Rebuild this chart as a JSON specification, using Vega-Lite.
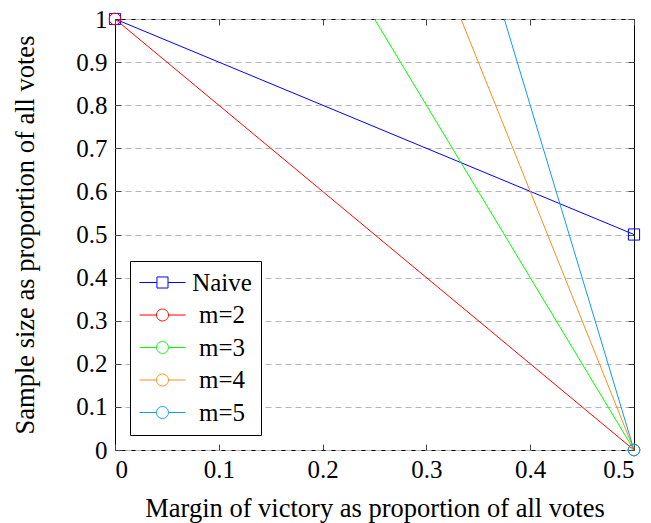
{
  "$schema": "https://vega.github.io/schema/vega-lite/v6.json",
  "width": 519,
  "height": 431,
  "autosize": {"type": "none"},
  "padding": {"left": 115, "top": 19, "right": 17, "bottom": 73},
  "background": "white",
  "data": {
    "values": [
      {"series": "Naive", "x": 0, "y": 1},
      {"series": "Naive", "x": 0.5, "y": 0.5},
      {"series": "m=2", "x": 0, "y": 1},
      {"series": "m=2", "x": 0.5, "y": 0},
      {"series": "m=3", "x": 0, "y": 2},
      {"series": "m=3", "x": 0.5, "y": 0},
      {"series": "m=4", "x": 0, "y": 3},
      {"series": "m=4", "x": 0.5, "y": 0},
      {"series": "m=5", "x": 0, "y": 4},
      {"series": "m=5", "x": 0.5, "y": 0}
    ]
  },
  "config": {
    "view": {"stroke": "black", "strokeWidth": 1},
    "font": "Liberation Serif",
    "axis": {
      "labelFont": "Liberation Serif",
      "labelFontSize": 25,
      "labelColor": "black",
      "titleFont": "Liberation Serif",
      "titleFontSize": 26.5,
      "titleFontWeight": "normal",
      "titleColor": "black",
      "domain": false,
      "tickSize": -6,
      "tickColor": "#444",
      "tickWidth": 1
    },
    "legend": {
      "labelFont": "Liberation Serif",
      "labelFontSize": 25,
      "labelColor": "black"
    }
  },
  "layer": [
    {
      "layer": [
        {
          "mark": {"type": "line", "clip": true, "strokeWidth": 1},
          "encoding": {
            "x": {
              "field": "x", "type": "quantitative",
              "scale": {"domain": [0, 0.5], "nice": false, "zero": false},
              "axis": {
                "orient": "bottom",
                "title": "Margin of victory as proportion of all votes",
                "values": [0, 0.1, 0.2, 0.3, 0.4, 0.5],
                "format": ".1~f",
                "grid": false,
                "labelPadding": 13,
                "titlePadding": 13
              }
            },
            "y": {
              "field": "y", "type": "quantitative",
              "scale": {"domain": [0, 1], "nice": false, "zero": false},
              "axis": {
                "orient": "left",
                "title": "Sample size as proportion of all votes",
                "values": [0, 0.1, 0.2, 0.3, 0.4, 0.5, 0.6, 0.7, 0.8, 0.9, 1],
                "format": ".1~f",
                "grid": true,
                "gridDash": [6, 4],
                "gridColor": "#b5b5b5",
                "gridWidth": 1,
                "labelPadding": 14,
                "titlePadding": 36
              }
            },
            "color": {
              "field": "series", "type": "nominal",
              "scale": {
                "domain": ["Naive", "m=2", "m=3", "m=4", "m=5"],
                "range": ["#0000ff", "#ff0000", "#00ff00", "#ff8c1a", "#0a9fe6"]
              },
              "legend": {
                "title": null,
                "orient": "bottom-left",
                "offset": 15,
                "padding": 9,
                "strokeColor": "black",
                "fillColor": "white",
                "cornerRadius": 0,
                "symbolSize": 144,
                "symbolStrokeWidth": 1,
                "symbolFillColor": "transparent",
                "labelAlign": "center",
                "labelOffset": 58,
                "rowPadding": 6.5,
                "encode": {
                  "symbols": {
                    "update": {
                      "shape": {"signal": "datum.value === 'Naive' ? 'M-2,0H0.91M2.75,0H5.67M0.91,-0.92H2.75V0.92H0.91Z' : 'M-2,0H0.83M2.83,0H5.67M2.83,0A1,1,0,1,1,0.83,0A1,1,0,1,1,2.83,0Z'"},
                      "fill": {"value": "transparent"}
                    }
                  }
                }
              }
            },
            "order": {"field": "x", "type": "quantitative"}
          }
        },
        {
          "transform": [{"filter": "datum.y <= 1 && datum.series === 'Naive'"}],
          "mark": {"type": "point", "shape": "square", "filled": false, "strokeWidth": 1, "opacity": 1, "size": 125},
          "encoding": {
            "x": {"field": "x", "type": "quantitative"},
            "y": {"field": "y", "type": "quantitative"},
            "color": {"field": "series", "type": "nominal"}
          }
        },
        {
          "transform": [{"filter": "datum.y <= 1 && datum.series !== 'Naive'"}],
          "mark": {"type": "point", "shape": "circle", "filled": false, "strokeWidth": 1, "opacity": 1, "size": 135},
          "encoding": {
            "x": {"field": "x", "type": "quantitative"},
            "y": {"field": "y", "type": "quantitative"},
            "color": {"field": "series", "type": "nominal"}
          }
        }
      ]
    },
    {
      "mark": {"type": "point", "opacity": 0},
      "encoding": {
        "x": {
          "field": "x", "type": "quantitative",
          "scale": {"domain": [0, 0.5], "nice": false, "zero": false},
          "axis": {"orient": "top", "title": null, "labels": false, "grid": false, "values": [0, 0.1, 0.2, 0.3, 0.4, 0.5]}
        },
        "y": {
          "field": "y", "type": "quantitative",
          "scale": {"domain": [0, 1], "nice": false, "zero": false},
          "axis": {"orient": "right", "title": null, "labels": false, "grid": false, "values": [0, 0.1, 0.2, 0.3, 0.4, 0.5, 0.6, 0.7, 0.8, 0.9, 1]}
        }
      }
    }
  ],
  "resolve": {"scale": {"x": "independent", "y": "independent"}}
}
